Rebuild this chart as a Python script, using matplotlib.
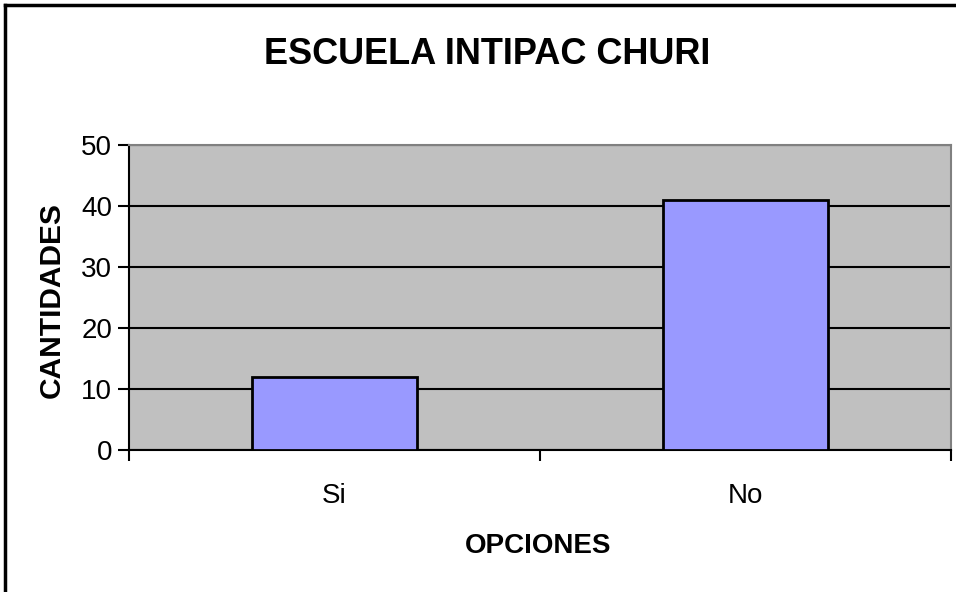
import matplotlib
matplotlib.use("Agg")
import matplotlib.pyplot as plt
from matplotlib.lines import Line2D
from matplotlib import font_manager

categories = ["Si", "No"]
values = [12, 41]
yticks = [0, 10, 20, 30, 40, 50]

names = {f.name for f in font_manager.fontManager.ttflist}
fam = ["Liberation Sans Narrow"] if "Liberation Sans Narrow" in names else ["Liberation Sans"]
plt.rcParams["font.family"] = fam + ["DejaVu Sans"]

fig = plt.figure(figsize=(9.56, 5.92), dpi=100)
ax = fig.add_axes([129/956, 1-450/592, (951-129)/956, (450-145)/592])
ax.set_facecolor("#C0C0C0")

x = list(range(len(categories)))
ax.bar(x, values, width=0.4, color="#9999FF", edgecolor="black", linewidth=2, zorder=3)
ax.set_xlim(-0.5, 1.5)
ax.set_ylim(0, 50)
ax.set_yticks(yticks)
ax.yaxis.grid(True, color="black", linewidth=1.5, zorder=1)
ax.set_axisbelow(True)
ax.set_xticks([-0.5, 0.5, 1.5], minor=False)
ax.set_xticklabels(["", "", ""])
ax.set_xticks(x, minor=True)
ax.set_xticklabels(categories, minor=True, fontsize=20)
ax.tick_params(axis="x", which="minor", length=0, pad=24)
ax.tick_params(axis="x", which="major", length=8, width=1.5, direction="out")
ax.tick_params(axis="y", length=8, width=1.5, direction="out", labelsize=20, pad=4)

for s in ["top", "right"]:
    ax.spines[s].set_color("#808080")
    ax.spines[s].set_linewidth(1.5)
for s in ["left", "bottom"]:
    ax.spines[s].set_color("black")
    ax.spines[s].set_linewidth(1.5)

fig.text(487/956, 1-54/592, "ESCUELA INTIPAC CHURI", ha="center", va="center",
         fontsize=26, fontweight="bold")
fig.text(538/956, 1-546/592, "OPCIONES", ha="center", va="center",
         fontsize=20, fontweight="bold")
fig.text(52/956, 1-300/592, "CANTIDADES", ha="center", va="center",
         rotation=90, fontsize=21.5, fontweight="bold")

fig.add_artist(Line2D([5/956, 5/956], [0, 1-5/592], transform=fig.transFigure,
                      color="black", linewidth=2.5))
fig.add_artist(Line2D([5/956, 1], [1-5/592, 1-5/592], transform=fig.transFigure,
                      color="black", linewidth=2.5))

fig.savefig("out.png", dpi=100)
